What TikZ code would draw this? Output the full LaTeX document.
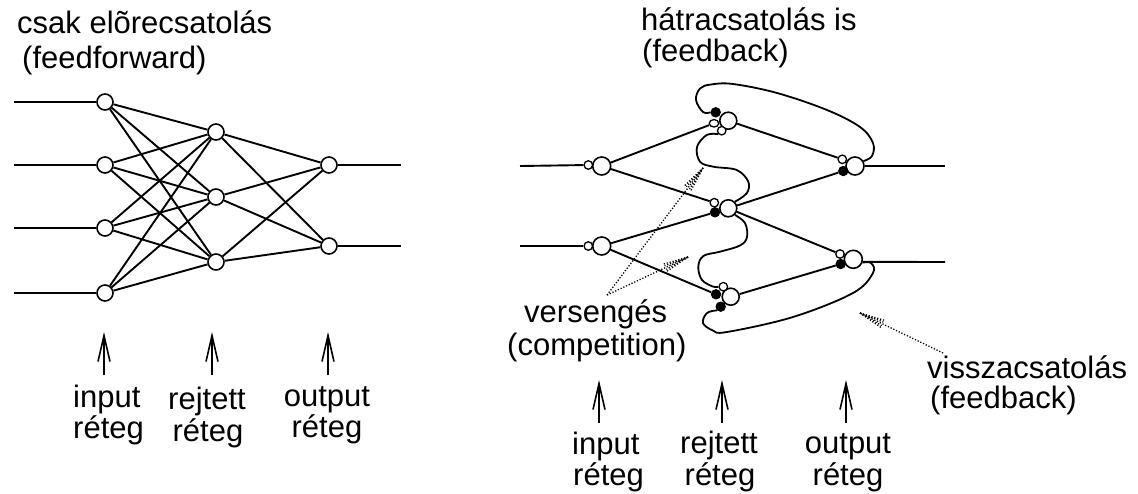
\documentclass[tikz,border=0pt]{standalone}
\usepackage{fontspec}
\setmainfont{Liberation Sans}
\usetikzlibrary{arrows.meta,calc,shapes.geometric}

% dotted pointer with a fanned dotted head: #1 tail, #2 tip
\newcommand\hintarrow[2]{%
  \draw[hint] (#1) -- (#2);
  \foreach \a/\l in {-9/26,-4.5/25,4.5/25,9/26}
    \draw[hint] (#2) -- ($(#2)!\l pt!\a:(#1)$);
}

\begin{document}
\begin{tikzpicture}[x=1pt,y=-1pt,
  neuron/.style={circle,draw,line width=1.6pt,minimum size=17pt,inner sep=0pt,fill=white},
  exc/.style={circle,draw,line width=1.3pt,minimum size=8.5pt,inner sep=0pt,fill=white},
  inh/.style={circle,draw,fill=black,line width=0.8pt,minimum size=9.5pt,inner sep=0pt},
  wire/.style={line width=1.9pt},
  loopline/.style={line width=1.8pt,line join=round},
  pointer/.style={line width=1.6pt,-{Straight Barb[length=26pt,width=12pt]}},
  hint/.style={line width=1.3pt,dash pattern=on 1.2pt off 1.8pt},
  lab/.style={inner sep=0pt,font=\fontsize{31}{36}\selectfont},
]
\useasboundingbox (0,0) rectangle (1138,493);

% ---------------- feedforward network ----------------
\foreach \n/\y in {1/102,2/165,3/228,4/293}{
  \node[neuron,minimum size=16pt] (fi\n) at (105,\y) {};
  \coordinate (fin\n) at (14,\y);
  \draw[wire] (fin\n) -- (fi\n);
}
\foreach \n/\y in {1/132,2/197,3/262}
  \node[neuron,minimum size=16pt] (fh\n) at (216,\y) {};
\foreach \n/\y in {1/165,2/246}{
  \node[neuron,minimum size=16pt] (fo\n) at (329,\y) {};
  \coordinate (fout\n) at (401,\y);
  \draw[wire] (fo\n) -- (fout\n);
}
\foreach \a in {1,...,4}
  \foreach \b in {1,2,3}
    \draw[wire] (fi\a) -- (fh\b);
\foreach \a in {1,2,3}
  \foreach \b in {1,2}
    \draw[wire] (fh\a) -- (fo\b);

\node[lab,anchor=base west] (ttl1) at (17,33) {csak elõrecsatolás};
\node[lab,anchor=base west] (ttl2) at (22,68) {(feedforward)};

% layer pointers and names
\foreach \n/\x in {1/104,2/212,3/328}{
  \coordinate (fpb\n) at (\x,375);
  \coordinate (fpt\n) at (\x,332);
  \draw[pointer] (fpb\n) -- (fpt\n);
}
\node[lab,anchor=base west] (fl1a) at (73,407) {input};
\node[lab,anchor=base west] (fl1b) at (73,438) {réteg};
\node[lab,anchor=base] (fl2a) at (207,409) {rejtett};
\node[lab,anchor=base] (fl2b) at (208,441) {réteg};
\node[lab,anchor=base] (fl3a) at (327,406) {output};
\node[lab,anchor=base] (fl3b) at (327,437) {réteg};

% ---------------- network with feedback ----------------
% neurons
\node[neuron,minimum size=18pt] (ri1) at (601.7,166) {};
\node[neuron,minimum size=18pt] (ri2) at (601.7,246) {};
\node[neuron] (rh1) at (728.3,120.7) {};
\node[neuron] (rh2) at (728.3,208.3) {};
\node[neuron] (rh3) at (730.7,296.7) {};
\node[neuron,minimum size=18pt] (ro1) at (855,166) {};
\node[neuron,minimum size=18pt] (ro2) at (853.3,259.3) {};

% synapses: white = excitatory, black = inhibitory
\node[exc] (si1) at (588.3,165) {};
\node[exc] (si2) at (588.3,246) {};
\node[inh] (sh1k) at (715.7,112.3) {};
\node[exc,ellipse,minimum width=9.5pt,minimum height=7.5pt] (sh1a) at (714,123.3) {};
\node[exc] (sh1b) at (721.7,130.7) {};
\node[exc] (sh2a) at (714.3,202.7) {};
\node[inh] (sh2k) at (715,212.3) {};
\node[exc] (sh3a) at (723.3,286.7) {};
\node[inh] (sh3k) at (716,294.3) {};
\node[inh] (sh3b) at (720.7,306.7) {};
\node[exc] (so1a) at (842.3,159.3) {};
\node[inh] (so1k) at (843.3,171) {};
\node[exc] (so2a) at (840,254) {};
\node[inh] (so2k) at (840.7,264) {};

% inputs and outputs
\foreach \n/\y in {1/166,2/246}{
  \coordinate (rin\n) at (520,\y);
  \draw[wire] (rin\n) -- (si\n);
}
\coordinate (rout1) at (945,166);
\coordinate (rout2) at (945,262);
\draw[wire] (ro1) -- (rout1);
\draw[wire] (ro2.-15) -- (rout2);

% forward connections
\draw[wire] (ri1) -- (sh1a);
\draw[wire] (ri1) -- (sh2a);
\draw[wire] (ri2) -- (sh2k);
\draw[wire] (ri2) -- (sh3k);
\draw[wire] (rh1) -- (so1a);
\draw[wire] (rh2) -- (so1k);
\draw[wire] (rh2) -- (so2a);
\draw[wire] (rh3) -- (so2k);

% lateral (competition) connections
\draw[loopline] plot[smooth,tension=0.6] coordinates {(sh1b.south west) (706.7,135) (697,147) (700,161.7) (713.3,166.7) (736.7,170) (748.3,181.7) (746.7,193.3) (rh2.north east)};
\draw[loopline] plot[smooth,tension=0.6] coordinates {(rh2.south east) (745,223) (747,237) (740,245.5) (720,251.7) (703.3,256) (698.3,267) (702,280) (713.3,286.7) (sh3a.west)};

% feedback loops
\draw[loopline] plot[smooth,tension=0.6] coordinates {(sh1k.west) (703,112) (696,100) (700,88.5) (711,84.5) (733,84) (777,93) (827,110) (860,127) (873,143) (872,156) (ro1.30)};
\draw[loopline] plot[smooth,tension=0.6] coordinates {(sh3b.south west) (707,313) (703,323) (713,330.5) (727,332) (793,317) (853,293) (873,273) (871,263) (ro2.-20)};

\node[lab,anchor=base west] (ttr1) at (641,30) {hátracsatolás is};
\node[lab,anchor=base west] (ttr2) at (642,61) {(feedback)};

% annotations
\node[lab,anchor=base west] (cmp1) at (524,322) {versengés};
\node[lab,anchor=base west] (cmp2) at (507,355) {(competition)};
\coordinate (cmptail) at (607,295);
\coordinate (cmptip1) at (703,168);
\coordinate (cmptip2) at (688,257);
\hintarrow{cmptail}{cmptip1}
\hintarrow{cmptail}{cmptip2}

\node[lab,anchor=base west] (fb1) at (927,378) {visszacsatolás};
\node[lab,anchor=base west] (fb2) at (930,408) {(feedback)};
\coordinate (fbtail) at (943,353);
\coordinate (fbtip) at (860,313);
\hintarrow{fbtail}{fbtip}

% layer pointers and names
\foreach \n/\x in {1/599,2/722,3/846}{
  \coordinate (rpb\n) at (\x,423);
  \coordinate (rpt\n) at (\x,380);
  \draw[pointer] (rpb\n) -- (rpt\n);
}
\node[lab,anchor=base west] (rl1a) at (572,454) {input};
\node[lab,anchor=base west] (rl1b) at (573,485) {réteg};
\node[lab,anchor=base] (rl2a) at (719,453) {rejtett};
\node[lab,anchor=base] (rl2b) at (720,485) {réteg};
\node[lab,anchor=base] (rl3a) at (848,453) {output};
\node[lab,anchor=base] (rl3b) at (848,485) {réteg};
\end{tikzpicture}
\end{document}
